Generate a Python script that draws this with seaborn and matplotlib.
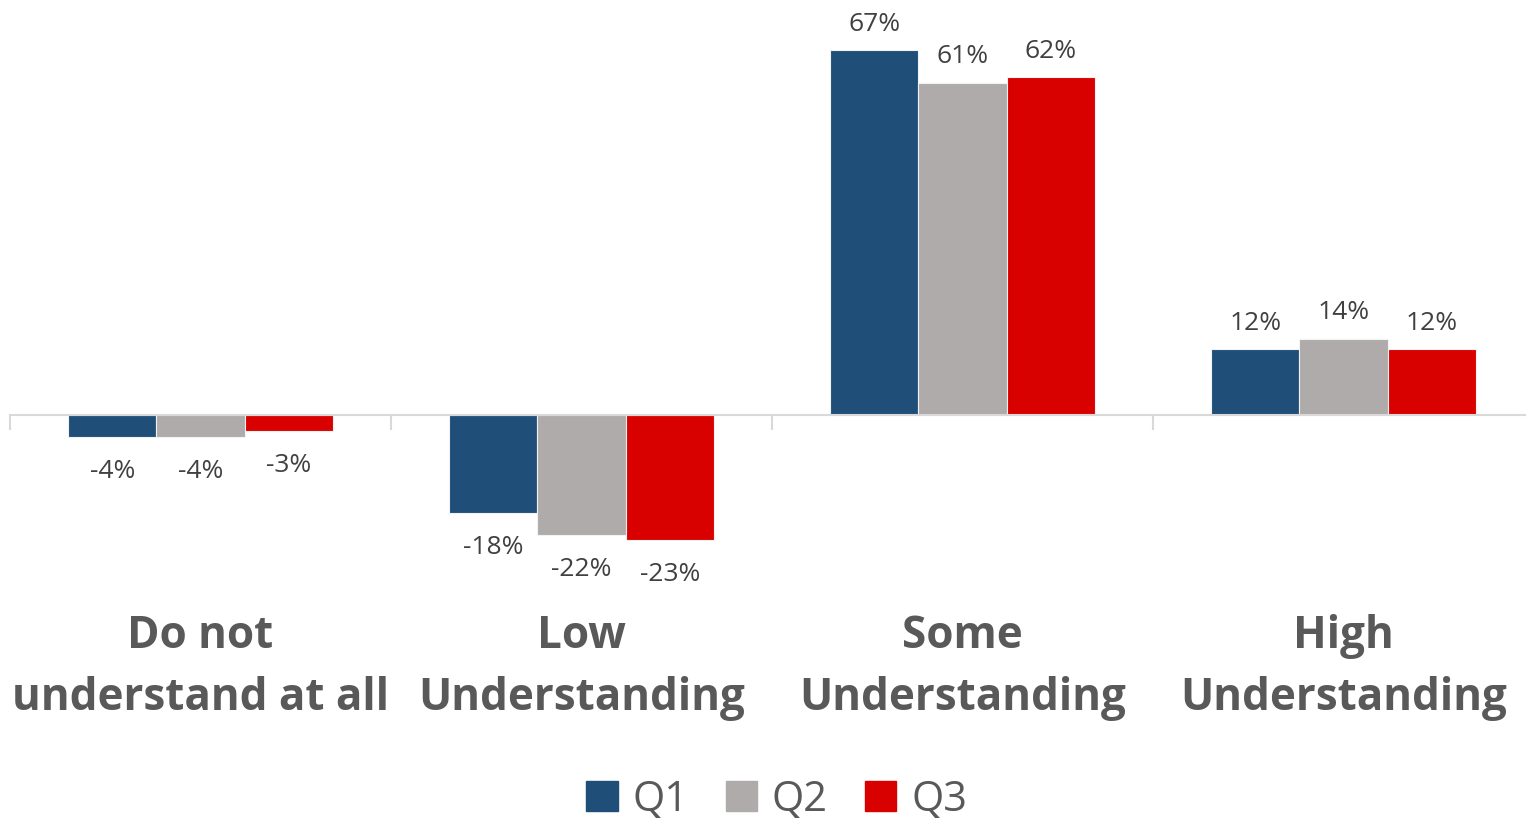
import matplotlib
matplotlib.use("Agg")
import matplotlib.pyplot as plt
from matplotlib.ticker import FixedLocator, NullFormatter
import seaborn as sns
import pandas as pd

categories = ["Do not\nunderstand at all", "Low\nUnderstanding", "Some\nUnderstanding", "High\nUnderstanding"]
series = ["Q1", "Q2", "Q3"]
q1 = [-4, -18, 67, 12]
q2 = [-4, -22, 61, 14]
q3 = [-3, -23, 62, 12]
colors = ["#1F4E79", "#AFABAB", "#D90000"]

df = pd.DataFrame({
    "category": categories * 3,
    "quarter": [s for s in series for _ in categories],
    "value": q1 + q2 + q3,
})

sns.set_theme(style="white")
plt.rcParams["font.family"] = ["Open Sans", "DejaVu Sans"]

fig = plt.figure(figsize=(15.26, 8.21), dpi=100)
ax = fig.add_axes([10 / 1526, 0.3289, 1524 / 1526, 0.6303])

sns.barplot(data=df, x="category", y="value", hue="quarter", order=categories,
            hue_order=series, palette=colors, saturation=1, width=0.695, gap=0,
            edgecolor="#F2F2F2", linewidth=0.8, legend=False, ax=ax)

ax.set_xlim(-0.5, 3.5)
ax.set_ylim(-25, 70)
ax.set_xlabel("")
ax.set_ylabel("")
ax.set_yticks([])
for side in ["top", "left", "right"]:
    ax.spines[side].set_visible(False)
ax.spines["bottom"].set_position(("data", 0))
ax.spines["bottom"].set_color("#D9D9D9")
ax.spines["bottom"].set_linewidth(1.5)

# ticks at the boundaries between categories
ax.xaxis.set_major_locator(FixedLocator([-0.5, 0.5, 1.5, 2.5, 3.5]))
ax.xaxis.set_major_formatter(NullFormatter())
ax.tick_params(axis="x", which="major", direction="out", length=11, width=1.5,
               color="#D9D9D9", bottom=True)

# value labels
for container in ax.containers:
    for bar in container:
        h = bar.get_height()
        x = bar.get_x() + bar.get_width() / 2
        if h >= 0:
            ax.annotate(f"{h:.0f}%", (x, h), xytext=(0, 9.5), textcoords="offset points",
                        ha="center", va="bottom", fontsize=19, color="#404040")
        else:
            ax.annotate(f"{h:.0f}%", (x, h), xytext=(0, -16), textcoords="offset points",
                        ha="center", va="top", fontsize=19, color="#404040")

# category names below the chart
for i, name in enumerate(categories):
    ax.text(i, -0.226, name, transform=ax.get_xaxis_transform(), ha="center", va="center",
            fontsize=31.7, fontweight="bold", color="#595959", linespacing=1.5)

handles = [plt.Rectangle((0, 0), 1, 1, color=c) for c in colors]
fig.legend(handles, series, loc="center", bbox_to_anchor=(0.509, 0.026), ncol=3,
           frameon=False, fontsize=30, handlelength=0.75, handleheight=0.75,
           handletextpad=0.35, columnspacing=0.9, labelcolor="#595959")

fig.savefig("out.png", dpi=100, facecolor="white")
